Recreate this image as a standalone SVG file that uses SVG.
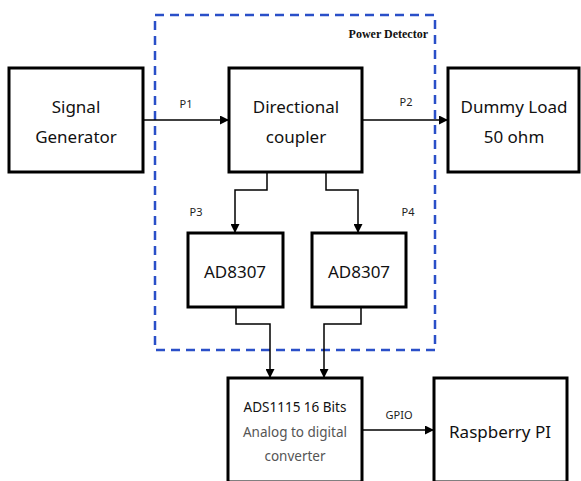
<svg xmlns="http://www.w3.org/2000/svg" width="581" height="481" viewBox="0 0 581 481">
<defs>
<marker id="arr" viewBox="0 0 10 10" refX="10" refY="5" markerWidth="9" markerHeight="9" markerUnits="userSpaceOnUse" orient="auto">
<path d="M0,0 L10,5 L0,10 z" fill="#000"/>
</marker>
<style>
.box{fill:#fff;stroke:#000;stroke-width:3}
.t{font-family:"Noto Sans","DejaVu Sans",sans-serif;font-size:17px;fill:#111;text-anchor:middle}
.s{font-family:"Noto Sans","DejaVu Sans",sans-serif;font-size:11px;fill:#222;text-anchor:middle}
.g{font-family:"Noto Sans","DejaVu Sans",sans-serif;font-size:13.5px;fill:#555;text-anchor:middle}
.c{fill:none;stroke:#000;stroke-width:1.5}
</style>
</defs>
<rect width="581" height="481" fill="#fff"/>
<g id="power-detector">
<rect x="155" y="15" width="280" height="335" fill="none" stroke="#2a4fc8" stroke-width="2.5" stroke-dasharray="9,6"/>
<text x="428" y="38" font-family="Liberation Serif,serif" font-weight="bold" font-size="12" text-anchor="end" fill="#111">Power Detector</text>
</g>
<g id="connectors">
<path class="c" d="M143,120 H229" marker-end="url(#arr)"/>
<path class="c" d="M362,120 H448" marker-end="url(#arr)"/>
<path class="c" d="M267,172 V190 H235 V233" marker-end="url(#arr)"/>
<path class="c" d="M326,172 V190 H358 V233" marker-end="url(#arr)"/>
<path class="c" d="M236,307 V324 H270 V378" marker-end="url(#arr)"/>
<path class="c" d="M361,307 V324 H324 V378" marker-end="url(#arr)"/>
<path class="c" d="M362,430 H434" marker-end="url(#arr)"/>
<text class="s" x="186" y="108">P1</text>
<text class="s" x="406" y="106">P2</text>
<text class="s" x="196" y="216">P3</text>
<text class="s" x="408" y="216">P4</text>
<text class="s" x="399" y="419">GPIO</text>
</g>
<g id="signal-generator">
<rect class="box" x="9" y="68" width="134" height="104"/>
<text class="t" x="76" y="113">Signal</text>
<text class="t" x="76" y="143">Generator</text>
</g>
<g id="directional-coupler">
<rect class="box" x="229" y="68" width="133" height="104"/>
<text class="t" x="296" y="113">Directional</text>
<text class="t" x="296" y="143">coupler</text>
</g>
<g id="dummy-load">
<rect class="box" x="448" y="68" width="131" height="104"/>
<text class="t" x="514" y="113">Dummy Load</text>
<text class="t" x="514" y="143">50 ohm</text>
</g>
<g id="ad8307-1">
<rect class="box" x="188" y="233" width="95" height="74"/>
<text class="t" x="235" y="278">AD8307</text>
</g>
<g id="ad8307-2">
<rect class="box" x="312" y="233" width="94" height="74"/>
<text class="t" x="359" y="278">AD8307</text>
</g>
<g id="ads1115">
<rect class="box" x="228" y="378" width="134" height="104"/>
<text class="g" x="295" y="412" style="fill:#111">ADS1115 16 Bits</text>
<text class="g" x="295" y="437">Analog to digital</text>
<text class="g" x="295" y="461">converter</text>
</g>
<g id="raspberry-pi">
<rect class="box" x="434" y="378" width="133" height="104"/>
<text class="t" x="500" y="438">Raspberry PI</text>
</g>
</svg>
